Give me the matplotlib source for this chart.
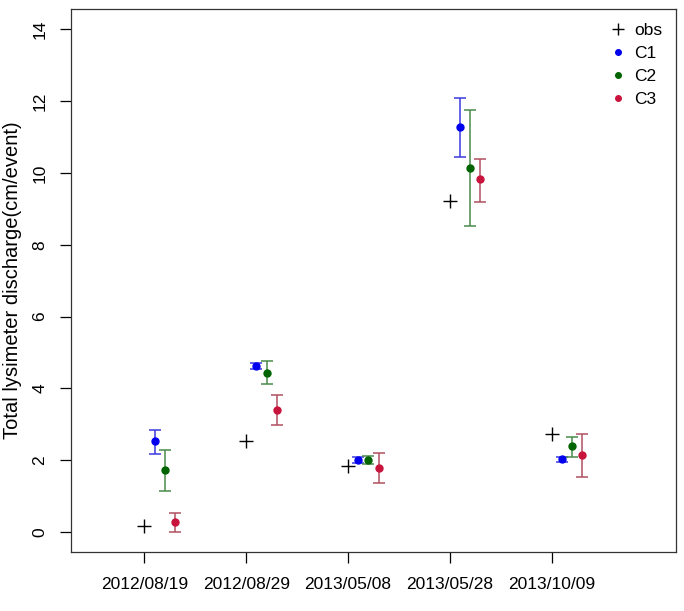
import numpy as np
import matplotlib.pyplot as plt

plt.rcParams['font.family'] = ['Liberation Sans', 'DejaVu Sans']

dates = ['2012/08/19', '2012/08/29', '2013/05/08', '2013/05/28', '2013/10/09']
obs = [0.17, 2.54, 1.83, 9.22, 2.73]

c1 = [2.53, 4.63, 2.01, 11.27, 2.02]
c1_lo = [2.18, 4.55, 1.92, 10.44, 1.94]
c1_hi = [2.85, 4.70, 2.09, 12.10, 2.10]

c2 = [1.72, 4.43, 2.01, 10.13, 2.38]
c2_lo = [1.15, 4.12, 1.90, 8.52, 2.10]
c2_hi = [2.27, 4.75, 2.12, 11.75, 2.64]

c3 = [0.27, 3.39, 1.79, 9.82, 2.15]
c3_lo = [0.00, 2.99, 1.37, 9.19, 1.54]
c3_hi = [0.52, 3.80, 2.21, 10.40, 2.72]

x = np.arange(1, len(dates) + 1)

fig = plt.figure(figsize=(6.84, 6.11), dpi=100)
ax = fig.add_axes([0.1038, 0.0966, 0.8845, 0.8882])

ax.plot(x, obs, linestyle='none', marker='+', color='black', markersize=10,
        markeredgewidth=1.0, label='obs')

series = [
    (c1, c1_lo, c1_hi, 0.1, '#0000ee', '#3a3ae0', 'C1'),
    (c2, c2_lo, c2_hi, 0.2, '#006400', '#4a8a4a', 'C2'),
    (c3, c3_lo, c3_hi, 0.3, '#c8143c', '#b05060', 'C3'),
]
for vals, lo, hi, off, col, ecol, lab in series:
    vals = np.array(vals)
    err = [vals - np.array(lo), np.array(hi) - vals]
    ax.errorbar(x + off, vals, yerr=err, fmt='none', ecolor=ecol,
                elinewidth=1.1, capsize=4, capthick=1.1)
    ax.plot(x + off, vals, linestyle='none', marker='o', color=col,
            markersize=5, label=lab)

ax.set_xlim(0.28, 6.22)
ax.set_ylim(-0.56, 14.56)
ax.set_xticks(x)
ax.set_xticklabels(dates)
ax.set_yticks(np.arange(0, 15, 2))
ax.tick_params(axis='y', labelrotation=90, labelsize=12.5, length=8, width=0.9, pad=9)
ax.tick_params(axis='x', labelsize=12.5, length=8, width=0.9, pad=10)
for lbl in ax.get_yticklabels():
    lbl.set_verticalalignment('center')
ax.set_ylabel('Total lysimeter discharge(cm/event)', fontsize=14.5, va='center')
ax.yaxis.set_label_coords(-0.096, 0.5)
for s in ax.spines.values():
    s.set_linewidth(0.9)
    s.set_color('#333333')

leg = ax.legend(loc='upper right', frameon=False, fontsize=12.5,
                handletextpad=0.4, handlelength=1.0, borderaxespad=0.4,
                labelspacing=0.45, markerscale=0.8)

fig.savefig('out.png', dpi=100)
